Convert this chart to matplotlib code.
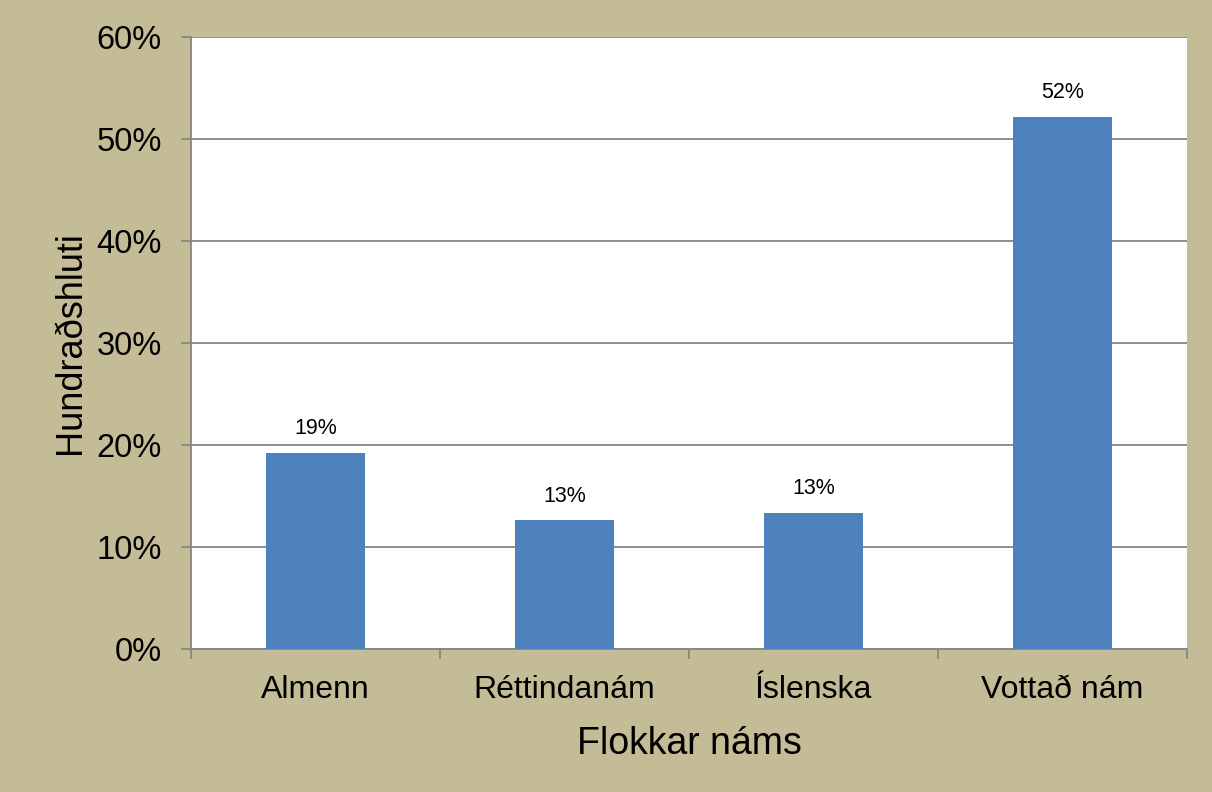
import matplotlib
matplotlib.use('Agg')
import matplotlib.pyplot as plt
from matplotlib.ticker import FixedLocator, PercentFormatter

plt.rcParams['font.family'] = ['Liberation Sans', 'DejaVu Sans']

# gögn
flokkar = ['Almenn', 'Réttindanám', 'Íslenska', 'Vottað nám']
hlutfall = [19.2, 12.6, 13.3, 52.2]
merki = ['19%', '13%', '13%', '52%']

bakgrunnur = '#C4BC96'
blar = '#4F81BD'
grar = '#868686'

fig = plt.figure(figsize=(12.12, 7.92), dpi=100, facecolor=bakgrunnur)
ax = fig.add_axes([0.1576, 0.1806, 0.8218, 0.7727])
ax.set_facecolor('white')

x = range(len(flokkar))
bars = ax.bar(x, hlutfall, width=0.4, color=blar, zorder=3)
for b, m in zip(bars, merki):
    ax.annotate(m, (b.get_x() + b.get_width() / 2, b.get_height()),
                xytext=(0, 10), textcoords='offset points',
                ha='center', va='bottom', fontsize=15.5)

ax.set_xlim(-0.5, len(flokkar) - 0.5)
ax.set_ylim(0, 60)
ax.set_yticks(range(0, 61, 10))
ax.yaxis.set_major_formatter(PercentFormatter(decimals=0))
ax.grid(axis='y', color=grar, linewidth=1.3, zorder=0)

ax.set_xticks(list(x))
ax.set_xticklabels(flokkar)
ax.xaxis.set_minor_locator(FixedLocator([i - 0.5 for i in range(len(flokkar) + 1)]))
ax.tick_params(axis='x', which='major', length=0, labelsize=23, pad=19)
ax.tick_params(axis='x', which='minor', length=7, width=1.3, color=grar)
ax.tick_params(axis='y', length=7, width=1.3, color=grar, labelsize=23.5, pad=14)

for s in ['top', 'right']:
    ax.spines[s].set_visible(False)
for s in ['left', 'bottom']:
    ax.spines[s].set_color(grar)
    ax.spines[s].set_linewidth(1.3)

ax.set_ylabel('Hundraðshluti', fontsize=26, labelpad=6)
ax.set_xlabel('Flokkar náms', fontsize=27, labelpad=15)

fig.savefig('out.png', dpi=100, facecolor=bakgrunnur)
